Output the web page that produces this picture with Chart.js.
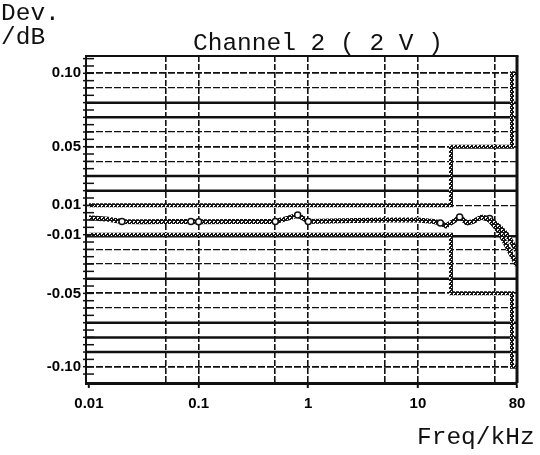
<!DOCTYPE html>
<html>
<head>
<meta charset="utf-8">
<script src="https://cdn.jsdelivr.net/npm/chart.js@4.4.1/dist/chart.umd.min.js"></script>
<style>
  html, body { margin: 0; padding: 0; background: #fff; }
  #wrap { position: relative; width: 540px; height: 455px; }
  #graph { position: absolute; left: 0; top: 0; }
  .lbl { position: absolute; font-family: 'Liberation Mono', 'DejaVu Sans Mono', monospace;
         font-size: 24.5px; line-height: 24px; color: #111; white-space: pre; }
</style>
</head>
<body>
<div id="wrap">
  <canvas id="graph" width="540" height="455"></canvas>
  <div class="lbl" style="left:1px;top:2px">Dev.</div>
  <div class="lbl" style="left:1px;top:26px">/dB</div>
  <div class="lbl" style="left:193px;top:32px">Channel 2 ( 2 V )</div>
  <div class="lbl" style="left:417px;top:426px">Freq/kHz</div>
</div>
<script>
// sweep, kHz / dB deviation
var freq    = [0.01, 0.015, 0.02, 0.03, 0.05, 0.085, 0.1, 0.2, 0.5, 0.6, 0.7, 0.8, 0.9, 1, 2, 5, 10, 14, 16, 18, 21, 24, 28, 32, 38, 45, 50, 56, 65, 74, 80];
var devMain = [0.0015, 0.0005, -0.001, -0.0012, -0.001, -0.001, -0.0012, -0.001, -0.001, 0.0005, 0.002, 0.0035, 0.0012, -0.001, -0.0005, 0, 0, -0.001, -0.002, -0.004, -0.001, 0.002, -0.002, -0.001, 0.002, 0.001, -0.002, -0.005, -0.010, -0.017, -0.021];
// second sweep splits off at the top end
var tailFreq = [38, 45, 50, 56, 65, 74, 80];
var tailDev  = [0.002, 0.0, -0.004, -0.009, -0.018, -0.026, -0.031];
var markFreq = [0.02, 0.085, 0.1, 0.5, 0.8, 1, 16, 24, 45];

// tolerance mask
var limFreq = [0.01, 20, 20, 72, 72, 80];
var limHigh = [0.01, 0.01, 0.05, 0.05, 0.10, 0.10];
var limLow  = [-0.01, -0.01, -0.05, -0.05, -0.10, -0.10];

// axes
var xTicks  = [0.01, 0.05, 0.1, 0.5, 1, 5, 10, 50, 80];
var xLabels = [0.01, 0.1, 1, 10, 80];
var yTicks  = [0.10, 0.09, 0.06, 0.05, 0.04, 0.01, -0.01, -0.02, -0.03, -0.05, -0.06, -0.10];
var yLabels = [0.10, 0.05, 0.01, -0.01, -0.05, -0.10];
var yRules  = [0.08, 0.07, 0.03, 0.02, -0.011, -0.04, -0.07, -0.08, -0.09];

function pts(xs, ys) {
  return xs.map(function(x, i) { return {x: x, y: ys[i]}; });
}

var canvas = document.getElementById('graph');

// dotted fill for the mask and the sweep traces
function stipple() {
  var c = document.createElement('canvas');
  c.width = c.height = 4;
  var g = c.getContext('2d');
  g.fillStyle = '#151515';
  g.fillRect(0, 0, 4, 4);
  g.fillStyle = '#fff';
  g.fillRect(1, 1, 2, 1);
  g.fillRect(1, 2, 1, 1);
  g.fillRect(3, 3, 1, 1);
  return canvas.getContext('2d').createPattern(c, 'repeat');
}
var hatch = stipple();

var frame = {
  id: 'frame',
  beforeDatasetsDraw: function(chart) {
    var ctx = chart.ctx, a = chart.chartArea, y = chart.scales.y;
    ctx.save();
    ctx.strokeStyle = '#111';
    ctx.lineWidth = 2.5;
    yRules.forEach(function(v) {
      var py = y.getPixelForValue(v);
      ctx.beginPath(); ctx.moveTo(a.left, py); ctx.lineTo(a.right, py); ctx.stroke();
    });
    ctx.restore();
  },
  afterDraw: function(chart) {
    var ctx = chart.ctx, a = chart.chartArea, y = chart.scales.y;
    ctx.save();
    ctx.strokeStyle = '#111';
    ctx.lineWidth = 2;
    ctx.beginPath(); ctx.moveTo(a.left, a.top); ctx.lineTo(a.right + 1.5, a.top); ctx.stroke();
    ctx.lineWidth = 3;
    ctx.beginPath(); ctx.moveTo(a.right, a.top); ctx.lineTo(a.right, a.bottom); ctx.stroke();
    // small cross ticks on the left edge
    ctx.lineWidth = 1.5;
    for (var k = -21; k <= 22; k++) {
      var py = y.getPixelForValue(k * 0.005);
      ctx.beginPath(); ctx.moveTo(a.left - 3, py); ctx.lineTo(a.left + 8, py); ctx.stroke();
    }
    ctx.restore();
  }
};

new Chart(canvas, {
  type: 'line',
  data: {
    datasets: [
      { data: pts(limFreq, limHigh), borderColor: hatch, borderWidth: 4, pointRadius: 0, tension: 0 },
      { data: pts(limFreq, limLow),  borderColor: hatch, borderWidth: 4, pointRadius: 0, tension: 0 },
      { data: pts(tailFreq, tailDev), borderColor: hatch, borderWidth: 5, pointRadius: 0, tension: 0 },
      {
        data: pts(freq, devMain), borderColor: hatch, borderWidth: 5, tension: 0,
        pointRadius: function(c) { return c.raw && markFreq.indexOf(c.raw.x) >= 0 ? 3 : 0; },
        pointBackgroundColor: '#fff', pointBorderColor: '#111', pointBorderWidth: 1.5
      }
    ]
  },
  options: {
    responsive: false,
    animation: false,
    layout: { padding: { top: 56, right: 23, left: 0, bottom: 0 } },
    plugins: { legend: { display: false }, tooltip: { enabled: false } },
    scales: {
      x: {
        type: 'logarithmic', min: 0.0094, max: 80,
        afterBuildTicks: function(s) { s.ticks = xTicks.map(function(v) { return {value: v}; }); },
        afterFit: function(s) { s.height = 72; },
        ticks: {
          autoSkip: false, maxRotation: 0, padding: 7, color: '#000',
          font: { family: 'Liberation Sans', size: 15, weight: 'bold' },
          callback: function(v) { return xLabels.indexOf(v) >= 0 ? String(v) : ''; }
        },
        grid: {
          color: function(c) { return c.tick && (c.tick.value === 0.01 || c.tick.value === 80) ? 'rgba(0,0,0,0)' : '#111'; },
          lineWidth: 1.6, drawTicks: true, tickLength: 5, tickWidth: 2,
          tickColor: function(c) { return c.tick && xLabels.indexOf(c.tick.value) >= 0 ? '#111' : 'rgba(0,0,0,0)'; }
        },
        border: { display: true, color: '#111', width: 3, dash: [6, 2] }
      },
      y: {
        type: 'linear', min: -0.1111, max: 0.1118,
        afterBuildTicks: function(s) { s.ticks = yTicks.map(function(v) { return {value: v}; }); },
        afterFit: function(s) { s.width = 86; },
        ticks: {
          autoSkip: false, padding: 5, color: '#000',
          font: { family: 'Liberation Sans', size: 15, weight: 'bold' },
          callback: function(v) { return yLabels.indexOf(v) >= 0 ? v.toFixed(2) : ''; }
        },
        grid: {
          drawTicks: false,
          color: function(c) { return c.tick && c.tick.value === -0.01 ? 'rgba(0,0,0,0)' : '#111'; },
          lineWidth: function(c) { return c.tick && [0.10, 0.05, -0.05, -0.10].indexOf(c.tick.value) >= 0 ? 1.8 : 1.3; }
        },
        border: { display: true, color: '#111', width: 2, dash: [7, 2] }
      }
    }
  },
  plugins: [frame]
});
</script>
</body>
</html>
